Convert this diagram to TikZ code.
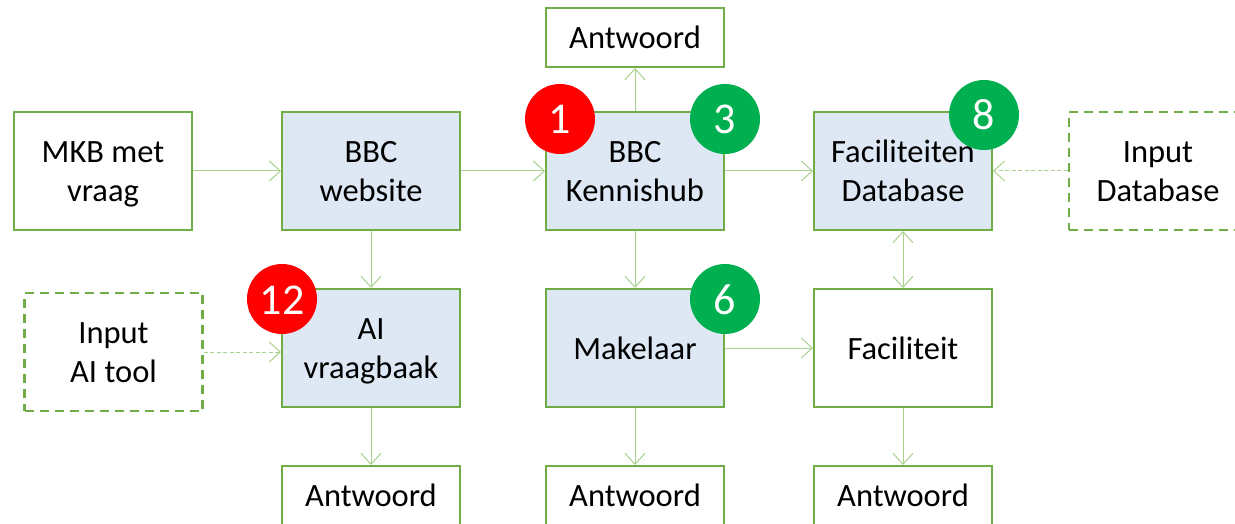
\documentclass[tikz,border=0pt]{standalone}
\usepackage{fontspec}
\setmainfont{Carlito}
\usetikzlibrary{arrows.meta}
\definecolor{boxgreen}{HTML}{70AD47}
\definecolor{linegreen}{HTML}{A9D18E}
\definecolor{boxblue}{HTML}{DEE8F5}
\definecolor{badgegreen}{HTML}{00B050}
\tikzset{
  box/.style={draw=boxgreen, line width=2pt, fill=white, minimum width=178pt, minimum height=118pt, inner sep=0pt, align=center, text height=69.5pt, text depth=8.5pt, font=\fontsize{32.5}{39}\selectfont},
  oneline/.style={text height=30.5pt},
  bluebox/.style={box, fill=boxblue},
  answer/.style={box, oneline, minimum height=59pt},
  inputbox/.style={box, line width=2.5pt, dash pattern=on 9pt off 6pt},
  flow/.style={draw=linegreen, line width=1pt, arrows={-Straight Barb[length=11pt,width=20pt,line width=1pt]}},
  inputflow/.style={flow, dash pattern=on 4pt off 2.5pt},
  badge/.style={circle, minimum size=70pt, inner sep=0pt, text=white, text height=30pt, text depth=0pt, font=\fontsize{44}{44}\selectfont},
  redbadge/.style={badge, fill=red},
  greenbadge/.style={badge, fill=badgegreen}
}
\begin{document}
\begin{tikzpicture}[x=1pt, y=-1pt]
\useasboundingbox (0,0) rectangle (1235,524);
\clip (0,0) rectangle (1235,524);
\node[box] (mkb) at (103,171) {MKB met\\vraag};
\node[bluebox] (website) at (371,171) {BBC\\website};
\node[bluebox] (hub) at (635,171) {BBC\\Kennishub};
\node[bluebox] (database) at (903,171) {Faciliteiten\\Database};
\node[inputbox] (inputdb) at (1158,171) {Input\\Database};
\node[answer] (hubanswer) at (635,37.5) {Antwoord};
\node[bluebox] (ai) at (371,348) {AI\\vraagbaak};
\node[bluebox, oneline] (makelaar) at (635,348) {Makelaar};
\node[box, oneline] (faciliteit) at (903,348) {Faciliteit};
\node[inputbox] (inputai) at (113.5,352) {Input\\AI tool};
\node[answer] (aianswer) at (371,495.5) {Antwoord};
\node[answer] (makelaaranswer) at (635,495.5) {Antwoord};
\node[answer] (facanswer) at (903,495.5) {Antwoord};
\draw[flow] (mkb)--(website);
\draw[flow] (website)--(hub);
\draw[flow] (hub)--(database);
\draw[flow] (hub)--(hubanswer);
\draw[flow] (hub)--(makelaar);
\draw[flow] (website)--(ai);
\draw[flow] (makelaar)--(faciliteit);
\draw[flow] (ai)--(aianswer);
\draw[flow] (makelaar)--(makelaaranswer);
\draw[flow] (faciliteit)--(facanswer);
\draw[flow, arrows={Straight Barb[length=11pt,width=20pt,line width=1pt]-Straight Barb[length=11pt,width=20pt,line width=1pt]}] (database)--(faciliteit);
\draw[inputflow] (inputdb)--(database);
\draw[inputflow] (inputai.east)--(inputai.east-|ai.west);
\node[redbadge] (one) at (560,119) {1};
\node[greenbadge] (three) at (725,119) {3};
\node[greenbadge] (eight) at (984,115) {8};
\node[greenbadge] (six) at (725,299) {6};
\node[redbadge] (twelve) at (282,299) {12};
\end{tikzpicture}
\end{document}
